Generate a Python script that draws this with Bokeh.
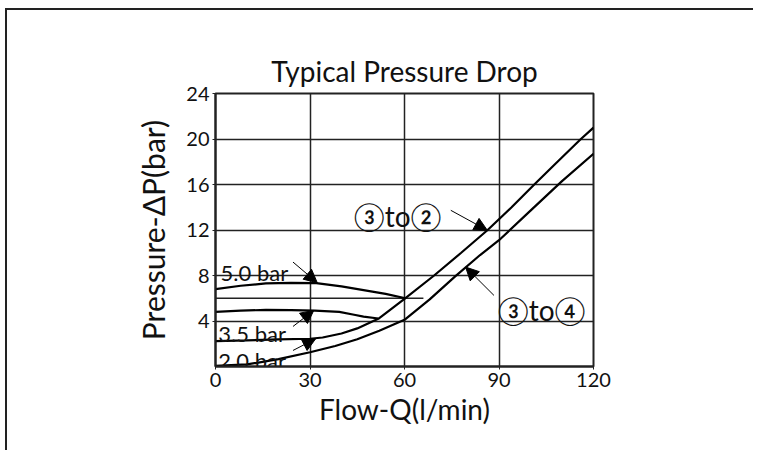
from bokeh.plotting import figure
from bokeh.models import Arrow, NormalHead, FixedTicker, Range1d, InlineStyleSheet
from bokeh.core.properties import value
from bokeh.embed import file_html
from bokeh.resources import INLINE

FONT = "Lato"
CIRCLED_FONT = "Lato, 'Noto Sans CJK JP'"

# ---- data ----
x_ticks = [0, 30, 60, 90, 120]
y_ticks = [4, 8, 12, 16, 20, 24]

q_3to2 = [0, 10, 20, 30, 34, 40, 45, 52, 60, 69.4, 78, 86.4, 94, 101.2, 108, 116, 120]
dp_3to2 = [2.23, 2.3, 2.38, 2.44, 2.55, 2.9, 3.35, 4.25, 5.95, 8.0, 10.0, 12.0, 14.0, 16.0, 17.85, 20.0, 21.0]

q_3to4 = [0, 10, 20, 30, 38, 45, 52, 60, 68, 76, 84, 90, 100, 110, 120]
dp_3to4 = [0.05, 0.18, 0.65, 1.25, 1.8, 2.4, 3.15, 4.1, 5.9, 7.9, 9.8, 11.1, 13.7, 16.3, 18.7]

q_50 = [0, 8, 16, 24, 32, 40, 47, 54, 60.3]
dp_50 = [6.8, 7.1, 7.3, 7.35, 7.33, 7.05, 6.72, 6.38, 6.0]

q_35 = [0, 8, 16, 24, 31.5, 39.3, 44, 47, 51.7]
dp_35 = [4.8, 4.92, 4.97, 4.96, 4.92, 4.8, 4.55, 4.38, 4.22]

q_ref = [0, 66]
dp_ref = [6, 6]

label_texts = ["5.0 bar", "3.5 bar", "2.0 bar", "\u2462to\u2461", "\u2462to\u2463"]
label_q = [1.6, 0.9, 0.9, 43.9, 89.6]
label_dp = [8.3, 2.88, 0.53, 13.2, 4.93]
arrow_q0 = [24.6, 24.6, 24.6, 74.7, 88.4]
arrow_dp0 = [9.18, 3.52, 1.41, 13.73, 6.25]
arrow_q1 = [32.3, 31.2, 31.8, 86.3, 79.4]
arrow_dp1 = [7.37, 4.93, 2.44, 11.97, 8.74]

x_title = "Flow-Q(l/min)"
y_title = "Pressure-\u0394P(bar)"

# ---- figure ----
p = figure(width=753, height=450, output_backend="svg", toolbar_location=None,
           x_range=Range1d(0, 120), y_range=Range1d(0, 24),
           min_border_left=215, min_border_right=160, min_border_top=93, min_border_bottom=84)

# page frame (top and left edges only, as in the reference)
frame_css = """
:host::before { content: ""; position: absolute; left: 5px; top: 8px; right: 0px;
                height: 2px; background: #222; z-index: 100; pointer-events: none; }
:host::after  { content: ""; position: absolute; left: 5px; top: 8px; bottom: 0px;
                width: 2px; background: #222; z-index: 100; pointer-events: none; }
"""
p.stylesheets = [InlineStyleSheet(css=frame_css)]

p.title.text = "Typical Pressure Drop"
p.title.align = "center"
p.title.text_font = FONT
p.title.text_font_style = "normal"
p.title.text_font_size = "28px"
p.title.text_color = "#111111"
p.title.standoff = 12

p.outline_line_color = "#222222"
p.outline_line_width = 2
p.outline_line_alpha = 1

p.xaxis.ticker = FixedTicker(ticks=x_ticks)
p.yaxis.ticker = FixedTicker(ticks=y_ticks)
for ax in (p.xaxis[0], p.yaxis[0]):
    ax.axis_line_color = "#222222"
    ax.axis_line_width = 2
    ax.major_tick_out = 3
    ax.major_tick_in = 0
    ax.minor_tick_out = 0
    ax.minor_tick_in = 0
    ax.major_tick_line_color = "#222222"
    ax.major_label_text_font = FONT
    ax.major_label_text_font_size = "20px"
    ax.major_label_text_color = "#111111"
    ax.axis_label_text_font = FONT
    ax.axis_label_text_font_style = "normal"
    ax.axis_label_text_color = "#111111"

p.xaxis.axis_label = x_title
p.yaxis.axis_label = y_title
p.xaxis.axis_label_text_font_size = "28px"
p.yaxis.axis_label_text_font_size = "30px"
p.xaxis.major_label_standoff = 3
p.yaxis.major_label_standoff = 3
p.xaxis.axis_label_standoff = 2
p.yaxis.axis_label_standoff = 12

p.xgrid.grid_line_color = "#222222"
p.ygrid.grid_line_color = "#222222"
p.xgrid.grid_line_width = 1.5
p.ygrid.grid_line_width = 1.5
p.xgrid.grid_line_alpha = 1
p.ygrid.grid_line_alpha = 1

p.line(q_ref, dp_ref, line_color="#222222", line_width=1.5)
for xs, ys in ((q_3to2, dp_3to2), (q_3to4, dp_3to4), (q_50, dp_50), (q_35, dp_35)):
    p.line(xs, ys, line_color="black", line_width=2.2)

fonts = [FONT, FONT, FONT, CIRCLED_FONT, CIRCLED_FONT]
sizes = ["22px", "22px", "22px", "28px", "28px"]
for t, x, y, f, s in zip(label_texts, label_q, label_dp, fonts, sizes):
    p.text(x=[x], y=[y], text=[t], text_font=value(f), text_font_size=s,
           text_baseline="alphabetic", text_align="left", text_color="#111111")

for x0, y0, x1, y1 in zip(arrow_q0, arrow_dp0, arrow_q1, arrow_dp1):
    p.add_layout(Arrow(end=NormalHead(size=13, fill_color="black", line_color="black"),
                       x_start=x0, y_start=y0, x_end=x1, y_end=y1,
                       line_color="black", line_width=1))

open("out.html", "w").write(file_html(p, INLINE))
